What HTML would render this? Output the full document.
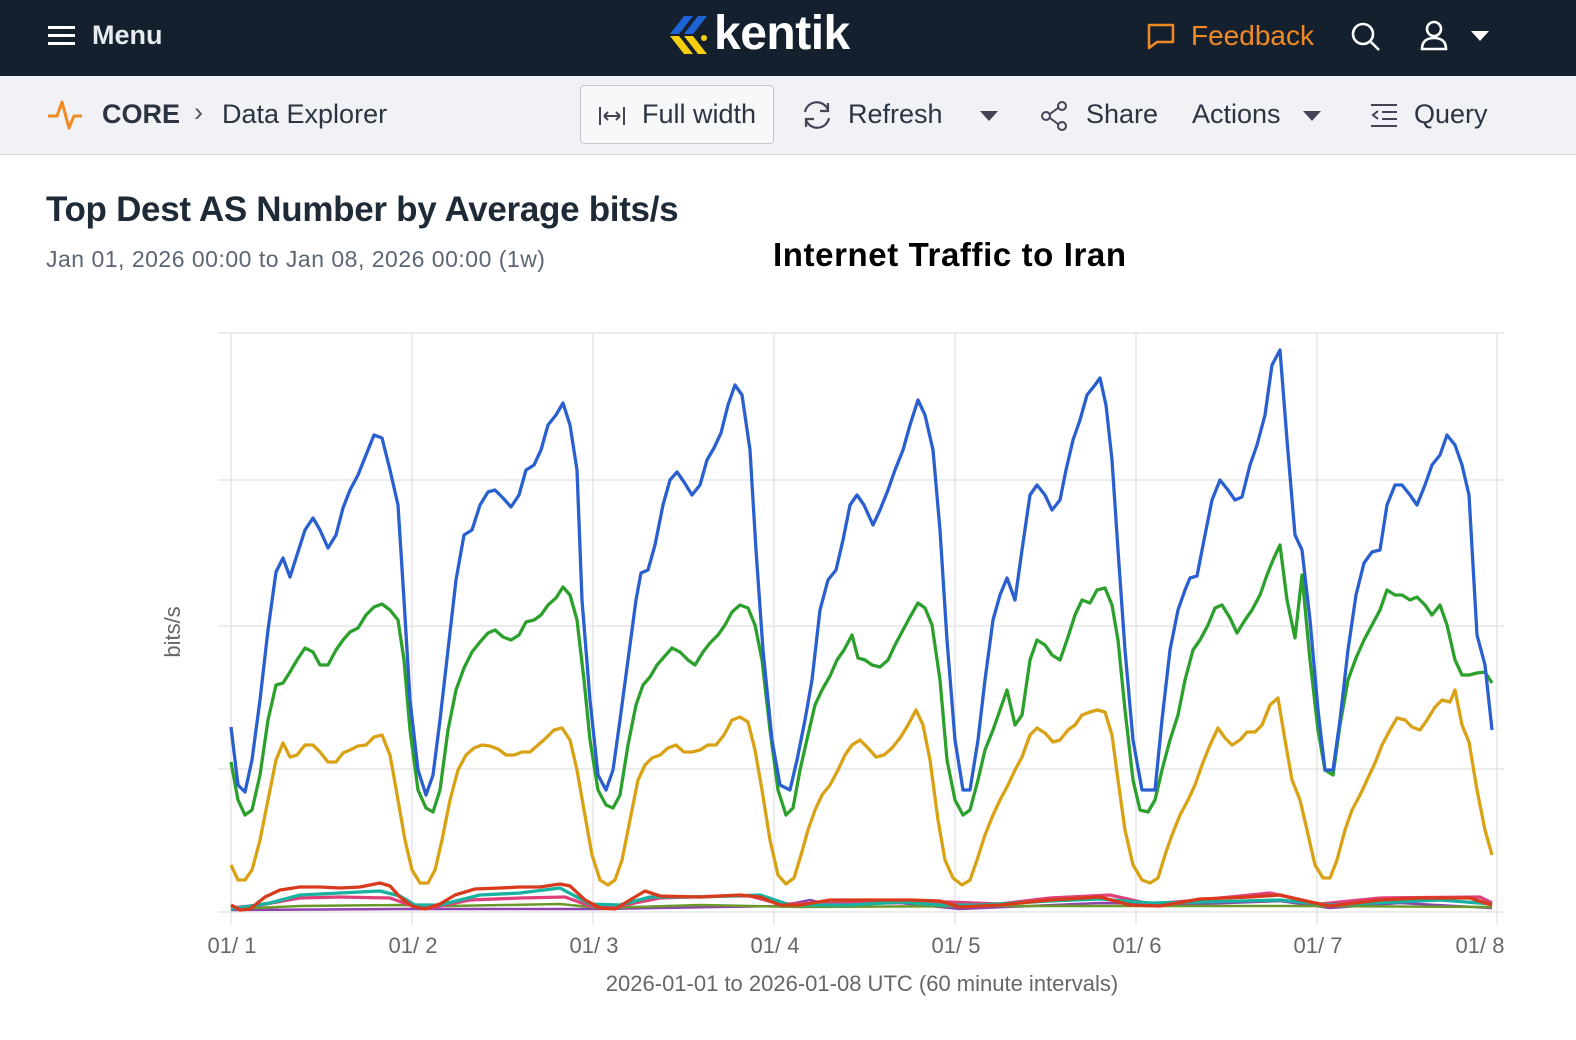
<!DOCTYPE html>
<html><head><meta charset="utf-8"><style>
*{margin:0;padding:0;box-sizing:border-box}
body{width:1576px;height:1040px;overflow:hidden;background:#fff;font-family:"Liberation Sans",sans-serif;position:relative}
.top{position:absolute;left:0;top:0;width:1576px;height:76px;background:#15202e;color:#fff}
.bar{position:absolute;left:0;top:76px;width:1576px;height:79px;background:#f0f2f5;border-bottom:1px solid #d5d8dd;color:#2b3440;font-size:27px}
.t{position:absolute;white-space:nowrap}
</style></head><body>
<div class="top">
 <div class="t" style="left:48px;top:26px;width:27px;height:3px;background:#fff;box-shadow:0 8px 0 #fff,0 16px 0 #fff"></div>
 <div class="t" style="left:92px;top:20px;font-size:27px;font-weight:bold;color:#e8ecf0">Menu</div>
 <svg class="t" style="left:666px;top:14px" width="44" height="42"><path d="M18 2h9L13 20h-9z" fill="#1d63d6"/><path d="M32 2h9L27 20h-9z" fill="#1d63d6"/><path d="M4 22h9l14 18h-9z" fill="#f5cf0d"/><path d="M18 22h9l14 18h-9z" fill="#f5cf0d"/><circle cx="38" cy="24" r="3" fill="#f5cf0d"/></svg>
 <div class="t" style="left:714px;top:6px;font-size:48px;font-weight:bold;color:#fff;letter-spacing:-0.5px">kentik</div>
 <svg class="t" style="left:1146px;top:22px" width="30" height="28"><path d="M3 3h24v17H11l-8 6z" fill="none" stroke="#f08a24" stroke-width="2.5" stroke-linejoin="round"/></svg>
 <div class="t" style="left:1191px;top:20px;font-size:28px;color:#f08a24">Feedback</div>
 <svg class="t" style="left:1350px;top:21px" width="32" height="32"><circle cx="13" cy="13" r="10" fill="none" stroke="#fff" stroke-width="2.6"/><path d="M21 21l8 8" stroke="#fff" stroke-width="2.6"/></svg>
 <svg class="t" style="left:1420px;top:20px" width="30" height="32"><circle cx="14" cy="9" r="7" fill="none" stroke="#fff" stroke-width="2.6"/><path d="M2 29c0-8 5-11 12-11s12 3 12 11z" fill="none" stroke="#fff" stroke-width="2.6"/></svg>
 <svg class="t" style="left:1471px;top:31px" width="20" height="12"><path d="M0 0h18L9 10z" fill="#fff"/></svg>
</div>
<div class="bar">
 <svg class="t" style="left:46px;top:22px" width="38" height="34"><path d="M2 18h9l5-14 7 26 5-12h8" fill="none" stroke="#f08a24" stroke-width="3" stroke-linejoin="round"/></svg>
 <div class="t" style="left:102px;top:23px;font-weight:bold">CORE</div>
 <div class="t" style="left:194px;top:21px;color:#555">›</div>
 <div class="t" style="left:222px;top:23px">Data Explorer</div>
 <div class="t" style="left:580px;top:9px;width:194px;height:59px;border:1px solid #c3c8cf;border-radius:4px;background:#f7f8fa"></div>
 <svg class="t" style="left:598px;top:29px" width="28" height="22"><path d="M2 2v18M26 2v18M6 11h16M6 11l4-4M6 11l4 4M22 11l-4-4M22 11l-4 4" stroke="#445" stroke-width="2" fill="none"/></svg>
 <div class="t" style="left:642px;top:23px">Full width</div>
 <svg class="t" style="left:800px;top:24px" width="34" height="30"><path d="M5 12a12 12 0 0 1 23-2M29 18a12 12 0 0 1-23 2" fill="none" stroke="#445" stroke-width="2.2"/><path d="M28 3v8h-8M6 27v-8h8" fill="none" stroke="#445" stroke-width="2.2"/></svg>
 <div class="t" style="left:848px;top:23px">Refresh</div>
 <svg class="t" style="left:980px;top:35px" width="18" height="11"><path d="M0 0h18L9 10z" fill="#445"/></svg>
 <svg class="t" style="left:1040px;top:24px" width="30" height="32"><circle cx="22" cy="6" r="4" fill="none" stroke="#445" stroke-width="2"/><circle cx="6" cy="16" r="4" fill="none" stroke="#445" stroke-width="2"/><circle cx="22" cy="26" r="4" fill="none" stroke="#445" stroke-width="2"/><path d="M10 14l8-6M10 18l8 6" stroke="#445" stroke-width="2"/></svg>
 <div class="t" style="left:1086px;top:23px">Share</div>
 <div class="t" style="left:1192px;top:23px">Actions</div>
 <svg class="t" style="left:1303px;top:35px" width="18" height="11"><path d="M0 0h18L9 10z" fill="#445"/></svg>
 <svg class="t" style="left:1370px;top:27px" width="28" height="24"><path d="M1 2h26M12 9h15M12 16h15M1 23h26M8 8l-5 4 5 4" stroke="#445" stroke-width="2" fill="none"/></svg>
 <div class="t" style="left:1414px;top:23px">Query</div>
</div>
<div class="t" style="left:46px;top:190px;font-size:35px;font-weight:bold;color:#1f2a37;letter-spacing:-0.3px">Top Dest AS Number by Average bits/s</div>
<div class="t" style="left:46px;top:246px;font-size:23px;color:#5b6675;letter-spacing:0.5px">Jan 01, 2026 00:00 to Jan 08, 2026 00:00 (1w)</div>
<div class="t" style="left:773px;top:236px;font-size:33px;font-weight:bold;color:#000;letter-spacing:0.6px">Internet Traffic to Iran</div>
<svg class="t" style="left:0;top:0" width="1576" height="1040">
<g stroke="#e6e6e6" stroke-width="1.5" fill="none">
<path d="M218 333H1504M218 480H1504M218 626H1504M218 769H1504M218 912H1504"/>
<path d="M231 333V925M412 333V925M593 333V925M774 333V925M955 333V925M1136 333V925M1317 333V925M1497 333V925"/>
</g>
<g font-family="Liberation Sans" font-size="22" fill="#666" text-anchor="middle">
<text x="232" y="953">01/ 1</text><text x="413" y="953">01/ 2</text><text x="594" y="953">01/ 3</text><text x="775" y="953">01/ 4</text><text x="956" y="953">01/ 5</text><text x="1137" y="953">01/ 6</text><text x="1318" y="953">01/ 7</text><text x="1480" y="953">01/ 8</text>
<text x="862" y="991">2026-01-01 to 2026-01-08 UTC (60 minute intervals)</text>
<text transform="translate(180,632) rotate(-90)">bits/s</text>
</g>
<g fill="none" stroke-width="3.3" stroke-linejoin="round">
<polyline stroke="#8e44ad" stroke-width="2.5" points="231,910 400,909 600,909 780,906 810,900 830,905 900,903 960,909 1100,903 1200,904 1280,901 1330,908 1400,903 1492,908"/>
<polyline stroke="#6a9a2a" stroke-width="2.5" points="231,909 300,906 400,905 450,906 560,904 600,908 700,905 800,907 1000,906 1300,906 1492,907"/>
<polyline stroke="#e0407a" points="231,908 260,905 300,898 340,897 390,898 410,905 430,908 470,900 520,898 565,897 590,906 620,906 660,898 720,896 750,896 780,904 850,903 950,902 1000,904 1050,898 1110,895 1150,904 1200,900 1270,893 1320,904 1380,898 1480,897 1492,903"/>
<polyline stroke="#17b2a0" points="231,909 270,903 300,895 340,893 380,891 400,896 415,905 440,905 480,895 520,893 560,888 590,904 620,905 650,897 700,897 760,895 790,905 850,905 900,902 940,905 980,905 1050,901 1100,899 1150,903 1200,902 1280,900 1330,905 1440,900 1492,904"/>
<polyline stroke="#d93a1c" points="231,905 240,910 250,909 265,897 280,890 300,887 320,887 340,888 360,887 380,883 390,886 400,897 412,906 425,909 440,904 455,895 475,889 500,888 520,887 540,887 560,884 570,886 585,900 600,908 615,909 630,900 645,891 660,896 700,897 740,895 760,897 780,905 800,905 830,900 870,900 910,900 940,901 960,907 1000,905 1050,900 1100,897 1130,905 1160,906 1200,899 1250,897 1280,895 1310,902 1330,906 1380,900 1420,898 1470,898 1492,905"/>
<polyline stroke="#d9a214" points="231,865 238,880 245,880 252,870 260,840 268,800 276,760 283,743 290,757 297,755 305,745 313,745 320,752 328,762 336,762 343,753 350,750 358,746 366,745 374,737 382,735 390,755 398,800 405,840 412,870 420,883 428,883 435,870 442,840 450,800 458,770 466,755 474,748 482,745 490,746 498,749 506,755 514,755 522,752 530,752 538,745 546,738 554,730 562,728 570,740 577,770 584,810 592,855 600,880 608,885 615,880 622,860 630,820 638,780 645,765 652,758 660,755 668,748 676,745 684,752 692,752 700,750 708,745 716,745 724,735 732,720 740,717 748,722 755,750 762,790 770,840 778,875 786,884 794,878 801,855 808,830 815,810 822,795 830,785 838,770 845,755 852,745 860,740 868,748 876,757 884,755 892,748 900,738 908,725 916,710 923,725 930,760 938,820 945,860 953,878 962,885 970,880 977,860 985,835 993,815 1000,800 1008,785 1015,770 1022,757 1030,735 1037,728 1045,733 1053,742 1060,740 1068,730 1075,725 1082,715 1090,712 1097,710 1105,712 1112,735 1118,780 1125,830 1133,865 1142,880 1150,883 1158,878 1165,855 1172,835 1180,815 1188,800 1195,785 1202,765 1210,745 1218,728 1225,738 1232,745 1240,740 1247,732 1255,732 1262,725 1270,705 1278,698 1285,740 1292,780 1300,800 1307,830 1315,865 1323,878 1330,878 1337,860 1345,830 1352,810 1360,795 1367,780 1375,763 1382,745 1390,730 1397,718 1405,720 1412,727 1420,730 1427,720 1435,707 1442,700 1450,702 1455,690 1462,725 1469,742 1477,790 1485,830 1492,855"/>
<polyline stroke="#2ca02c" points="231,762 238,800 245,815 252,810 260,775 268,720 276,685 283,683 290,672 297,660 305,648 313,652 320,665 328,665 336,650 343,640 350,632 358,628 366,615 374,607 382,604 390,610 398,620 404,660 410,730 418,790 426,808 433,812 440,790 448,730 456,690 464,668 472,652 480,642 488,633 495,630 503,637 511,640 519,635 526,622 534,620 541,615 548,605 556,598 563,587 570,595 577,620 584,680 590,740 598,790 606,805 613,808 620,795 628,745 636,705 643,685 650,677 657,665 664,657 672,648 680,652 688,660 695,665 703,652 710,643 718,635 725,625 732,612 740,605 748,608 755,625 762,660 770,730 778,790 786,815 793,808 800,770 808,735 815,705 822,690 830,676 837,660 844,650 852,635 858,658 865,660 872,665 880,667 888,660 895,645 903,630 910,617 918,603 925,608 932,625 940,680 947,760 955,800 963,815 970,810 978,780 985,750 993,730 1000,710 1007,690 1015,725 1022,715 1030,660 1037,640 1045,645 1052,655 1060,660 1067,640 1075,615 1082,600 1090,603 1097,590 1105,588 1112,605 1118,640 1125,710 1133,780 1140,810 1148,812 1155,800 1162,770 1170,740 1178,715 1185,680 1193,650 1200,640 1208,625 1215,608 1222,605 1230,618 1237,633 1245,620 1252,610 1260,595 1267,575 1273,560 1280,545 1287,600 1295,638 1302,575 1310,660 1318,730 1325,770 1333,775 1340,725 1348,680 1356,658 1364,640 1372,625 1380,610 1387,590 1395,595 1402,595 1410,600 1417,597 1425,605 1432,615 1440,605 1447,625 1455,660 1462,675 1469,675 1477,673 1485,672 1492,683"/>
<polyline stroke="#2a5fd0" points="231,727 238,785 245,792 252,760 260,700 268,630 276,572 283,558 290,577 297,555 305,530 313,518 320,530 328,548 336,535 343,508 350,490 358,475 366,455 374,435 382,438 390,470 398,505 404,600 410,700 418,770 426,795 433,775 440,720 448,650 456,580 464,535 472,530 480,505 488,492 495,490 503,498 511,507 519,495 526,470 534,465 541,450 548,425 556,415 563,403 570,425 577,470 582,600 590,700 598,775 606,790 613,770 620,720 628,660 636,600 641,573 648,570 655,545 663,505 670,480 677,472 684,482 692,495 700,485 707,460 714,448 721,433 728,405 735,385 742,395 750,450 756,550 763,650 772,740 780,785 790,790 797,760 805,720 812,680 820,610 828,580 836,570 843,540 850,505 857,495 864,505 873,525 880,510 888,490 895,470 903,450 910,425 918,400 925,415 933,450 940,530 947,640 955,740 963,790 970,790 978,740 985,680 993,620 1000,595 1007,578 1015,600 1022,550 1030,495 1037,485 1045,495 1052,510 1060,500 1066,470 1073,440 1080,420 1087,395 1095,385 1100,378 1106,405 1112,460 1118,550 1125,650 1133,740 1142,790 1155,790 1162,720 1170,650 1178,610 1185,590 1190,578 1197,576 1205,535 1212,500 1220,480 1228,490 1235,500 1242,497 1250,465 1257,445 1265,415 1272,365 1280,350 1287,440 1295,535 1302,550 1310,620 1318,710 1325,770 1333,770 1340,720 1348,650 1356,595 1364,563 1372,552 1380,550 1387,505 1395,485 1402,485 1410,495 1417,505 1425,485 1432,465 1440,455 1447,435 1455,445 1462,465 1469,495 1477,635 1485,665 1492,730"/>
</g>
</svg>
</body></html>
